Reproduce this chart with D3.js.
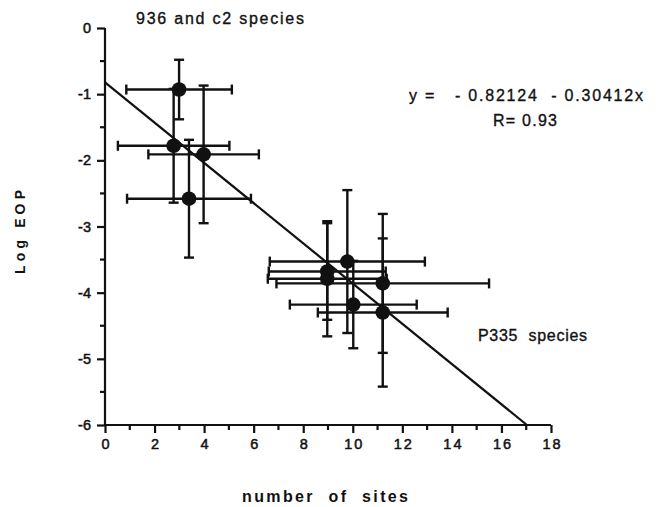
<!DOCTYPE html>
<html>
<head>
<meta charset="utf-8">
<script src="https://cdn.jsdelivr.net/npm/d3@7"></script>
<style>
  body { margin: 0; background: #fff; }
  svg { display: block; }
  text { font-family: "Liberation Sans", Arial, Helvetica, sans-serif; fill: #111; }
</style>
</head>
<body>
<svg id="chart" width="658" height="507"></svg>
<script>
// ---- data ----
const sites   = [2.99, 2.77, 3.98, 3.39, 9.78, 8.97, 8.97, 11.21, 11.21, 10.02];
const logEOP  = [-0.93, -1.78, -1.91, -2.58, -3.53, -3.68, -3.79, -3.86, -4.30, -4.18];
const sitesErr = [2.13, 2.25, 2.23, 2.5, 3.13, 2.36, 2.4, 4.29, 2.62, 2.56];
const eopErr   = [0.45, 0.86, 1.04, 0.89, 1.08, 0.73, 0.87, 1.05, 1.12, 0.66];
const xTicks = [0, 2, 4, 6, 8, 10, 12, 14, 16, 18];
const yTicks = [0, -1, -2, -3, -4, -5, -6];
const fitIntercept = -0.82124;
const fitSlope = -0.30412;

const svg = d3.select("#chart");
const x = d3.scaleLinear().domain([0, 18]).range([105, 551]);
const y = d3.scaleLinear().domain([0, -6]).range([28, 425]);

const ink = "#111";

// axes
const xAxis = d3.axisBottom(x).tickValues(xTicks).tickSize(8).tickPadding(6).tickFormat(d3.format("d"));
const gx = svg.append("g").attr("transform", `translate(0,${y(-6)})`).call(xAxis);
const yAxis = d3.axisLeft(y).tickValues(yTicks).tickSize(8).tickPadding(6).tickFormat(d => d === 0 ? "0" : "-" + Math.abs(d));
const gy = svg.append("g").attr("transform", `translate(${x(0)},0)`).call(yAxis);

[gx, gy].forEach(g => {
  g.select(".domain").attr("stroke", ink).attr("stroke-width", 2.2);
  g.selectAll(".tick line").attr("stroke", ink).attr("stroke-width", 2.2);
  g.selectAll(".tick text").attr("fill", ink).style("font-size", "14.5px")
    .attr("stroke", ink).attr("stroke-width", 0.5)
    .style("font-family", '"Liberation Sans", Arial, sans-serif');
});
gx.select(".domain").attr("d", `M${x(0)},0H${x(18)}`);
gy.select(".domain").attr("d", `M0,${y(0)}V${y(-6)}`);
gx.selectAll(".tick text").style("letter-spacing", "2px").attr("dx", "1px");

// minor ticks
const xMinor = d3.range(1, 18, 2);
svg.append("g").selectAll("line").data(xMinor).join("line")
  .attr("x1", d => x(d)).attr("x2", d => x(d))
  .attr("y1", y(-6)).attr("y2", y(-6) + 5)
  .attr("stroke", ink).attr("stroke-width", 2.2);
const yMinor = d3.range(-0.5, -6, -1);
svg.append("g").selectAll("line").data(yMinor).join("line")
  .attr("y1", d => y(d)).attr("y2", d => y(d))
  .attr("x1", x(0) - 5).attr("x2", x(0))
  .attr("stroke", ink).attr("stroke-width", 2.2);

// regression line
const xEnd = (-6 - fitIntercept) / fitSlope;
svg.append("line")
  .attr("x1", x(0)).attr("y1", y(fitIntercept))
  .attr("x2", x(xEnd)).attr("y2", y(fitIntercept + fitSlope * xEnd))
  .attr("stroke", ink).attr("stroke-width", 2.2);

// error bars
const pts = sites.map((s, i) => ({ s, e: logEOP[i], sx: sitesErr[i], ey: eopErr[i] }));
const cap = 5;
const eb = svg.append("g").attr("stroke", ink).attr("stroke-width", 2.4);
pts.forEach(p => {
  const cx = x(p.s), cy = y(p.e);
  const xl = x(p.s - p.sx), xr = x(p.s + p.sx);
  const yt = y(p.e + p.ey), yb = y(p.e - p.ey);
  eb.append("line").attr("x1", xl).attr("x2", xr).attr("y1", cy).attr("y2", cy);
  eb.append("line").attr("x1", xl).attr("x2", xl).attr("y1", cy - cap).attr("y2", cy + cap);
  eb.append("line").attr("x1", xr).attr("x2", xr).attr("y1", cy - cap).attr("y2", cy + cap);
  eb.append("line").attr("x1", cx).attr("x2", cx).attr("y1", yt).attr("y2", yb);
  eb.append("line").attr("x1", cx - cap).attr("x2", cx + cap).attr("y1", yt).attr("y2", yt);
  eb.append("line").attr("x1", cx - cap).attr("x2", cx + cap).attr("y1", yb).attr("y2", yb);
});

// points
svg.append("g").selectAll("circle").data(pts).join("circle")
  .attr("cx", d => x(d.s)).attr("cy", d => y(d.e)).attr("r", 7.3).attr("fill", ink);

// annotations
const ann = (sel) => sel.style("font-size", "16px").attr("stroke", ink).attr("stroke-width", 0.35)
  .attr("lengthAdjust", "spacing").style("white-space", "pre");
ann(svg.append("text").attr("x", 136).attr("y", 24))
  .attr("textLength", 168).text("936 and c2 species");
ann(svg.append("text").attr("x", 478).attr("y", 341))
  .attr("textLength", 109).text("P335  species");
ann(svg.append("text").attr("x", 409).attr("y", 101))
  .attr("textLength", 234).text("y =   - 0.82124  - 0.30412x");
ann(svg.append("text").attr("x", 493).attr("y", 126))
  .attr("textLength", 64).text("R= 0.93");

// axis titles
svg.append("text").attr("x", 325).attr("y", 502).attr("text-anchor", "middle")
  .style("font-size", "16px").style("font-weight", "bold")
  .style("white-space", "pre")
  .attr("textLength", 166).attr("lengthAdjust", "spacing").text("number  of  sites");
svg.append("text").attr("transform", "translate(25,232) rotate(-90)").attr("text-anchor", "middle")
  .style("font-size", "14px").style("font-weight", "bold")
  .attr("textLength", 84).attr("lengthAdjust", "spacing").text("Log EOP");
</script>
</body>
</html>
